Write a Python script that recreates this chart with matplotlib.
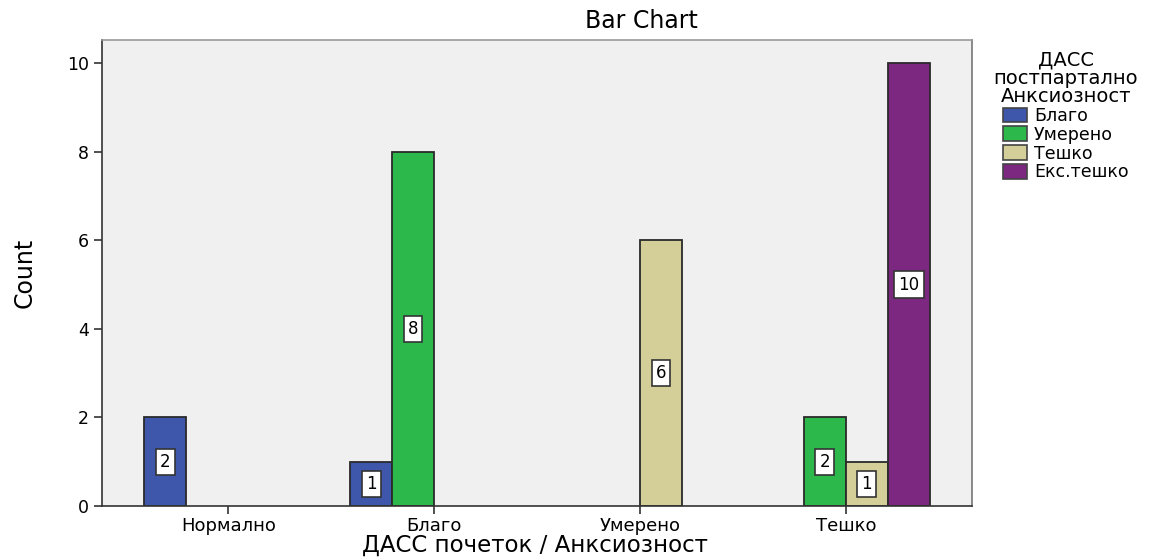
import numpy as np
import matplotlib
matplotlib.use("Agg")
import matplotlib.pyplot as plt

categories = ["Нормално", "Благо", "Умерено", "Тешко"]
series_names = ["Благо", "Умерено", "Тешко", "Екс.тешко"]
series_values = {
    "Благо":     [2, 1, 0, 0],
    "Умерено":   [0, 8, 0, 2],
    "Тешко":     [0, 0, 6, 1],
    "Екс.тешко": [0, 0, 0, 10],
}
colors = ["#3E57AB", "#2DB84B", "#D4CF99", "#7D2880"]
yticks = [0, 2, 4, 6, 8, 10]

plt.rcParams['font.family'] = ['DejaVu Sans']

fig = plt.figure(figsize=(11.57, 5.58), dpi=100)
ax = fig.add_axes([102/1157, 52/558, (972-102)/1157, (506-40)/558])
ax.set_facecolor("#F0F0F0")

x = np.arange(len(categories))
w = 0.204
offsets = (np.arange(len(series_names)) - 1.5) * w
handles = []
for i, name in enumerate(series_names):
    vals = np.array(series_values[name], dtype=float)
    mask = vals > 0
    bars = ax.bar(x[mask] + offsets[i], vals[mask], width=w, color=colors[i],
                  edgecolor="#2a2a2a", linewidth=1.3, zorder=2)
    for b, v in zip(bars, vals[mask]):
        ax.text(b.get_x() + b.get_width()/2, v/2, f"{int(v)}", ha="center", va="center",
                fontsize=12, zorder=3,
                bbox=dict(boxstyle="square,pad=0.25", fc="white", ec="#333333", lw=1.2))
    handles.append(plt.Rectangle((0, 0), 1, 1, fc=colors[i], ec="#444444", lw=1.2))

ax.set_xlim(-0.613, 3.613)
ax.set_ylim(0, 10.52)
ax.set_xticks(x)
ax.set_xticklabels(categories, fontsize=13)
ax.set_yticks(yticks)
ax.set_yticklabels([str(t) for t in yticks], fontsize=12.5)
ax.tick_params(axis="both", length=6, width=1.2, color="#333333")
ax.tick_params(axis="x", pad=2)
for s in ax.spines.values():
    s.set_color("#333333")
    s.set_linewidth(1.2)
ax.spines["top"].set_color("#999999")
ax.spines["right"].set_color("#777777")

fig.text(641/1157, 1 - 21/558, "Bar Chart", fontsize=17, ha="center", va="center")
fig.text(535/1157, 1/558, "ДАСС почеток / Анксиозност", fontsize=16.5,
         ha="center", va="bottom")
ax.set_ylabel("Count", fontsize=17, labelpad=22, family="DejaVu Sans Condensed")

leg = fig.legend(handles, series_names, title="ДАСС\nпостпартално\nАнксиозност",
                 loc="upper left", bbox_to_anchor=(983/1157, 1 - 40/558),
                 frameon=False, fontsize=12.5, title_fontsize=14,
                 handlelength=1.4, handleheight=0.9, handletextpad=0.4,
                 labelspacing=0.05, borderpad=0.1)
leg._legend_box.align = "center"
leg.get_title().set_multialignment("center")
leg.get_title().set_linespacing(0.95)

fig.savefig("out.png", dpi=100)
